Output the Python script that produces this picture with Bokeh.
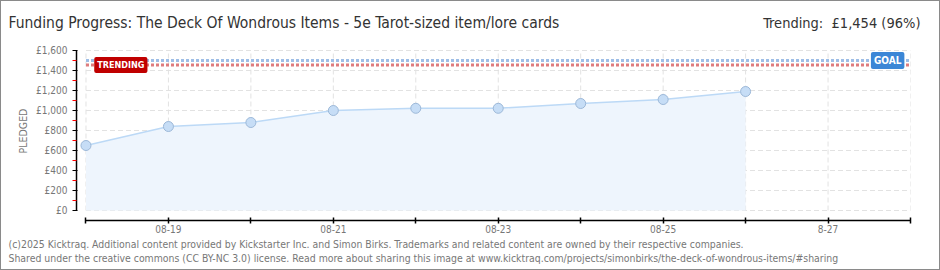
from bokeh.plotting import figure
from bokeh.layouts import column
from bokeh.models import (ColumnDataSource, FixedTicker, Label, Range1d, Title)
from bokeh.embed import file_html
from bokeh.resources import INLINE

# ---- data ----
days = [0, 1, 2, 3, 4, 5, 6, 7, 8]          # 0 = 08-18
pledged = [650, 840, 880, 1000, 1022, 1022, 1070, 1110, 1190]
tick_days = [0, 1, 2, 3, 4, 5, 6, 7, 8, 9, 10]
tick_labels = ["", "08-19", "", "08-21", "", "08-23", "", "08-25", "", "8-27", ""]
y_ticks = [0, 200, 400, 600, 800, 1000, 1200, 1400, 1600]
y_minor = [100, 300, 500, 700, 900, 1100, 1300, 1500]
goal = 1500
trending = 1454
trending_pct = 96
title_text = "Funding Progress: The Deck Of Wondrous Items - 5e Tarot-sized item/lore cards"
footer1 = "(c)2025 Kicktraq. Additional content provided by Kickstarter Inc. and Simon Birks. Trademarks and related content are owned by their respective companies."
footer2 = "Shared under the creative commons (CC BY-NC 3.0) license. Read more about sharing this image at www.kicktraq.com/projects/simonbirks/the-deck-of-wondrous-items/#sharing"

FONT = "DejaVu Sans Condensed"
W = 938
HEAD_H = 40
MAIN_H = 228
BL, BR, BT, BB = 75, 29, 0, 49
FRAME_LEFT = BL + 1          # page x of frame left (1px border)

# ---- header strip ----
head = figure(width=W, height=HEAD_H, output_backend="svg", toolbar_location=None,
              x_range=Range1d(0, W), y_range=Range1d(0, HEAD_H), min_border=0,
              frame_align=False)
head.axis.visible = False
head.grid.visible = False
head.outline_line_color = None
head.add_layout(Label(x=7, y=HEAD_H - 21, text=title_text,
                      text_font=FONT, text_font_size="15.5px", text_color="#333333",
                      text_baseline="middle"))
head.add_layout(Label(x=919, y=HEAD_H - 21,
                      text="Trending:\u00a0 £{:,} ({}%)".format(trending, trending_pct),
                      text_font=FONT, text_font_size="14.5px", text_color="#333333",
                      text_baseline="middle", text_align="right"))

# ---- main chart ----
p = figure(width=W, height=MAIN_H, output_backend="svg", toolbar_location=None,
           x_range=Range1d(-0.115, 10), y_range=Range1d(-100, 1690),
           min_border_left=BL, min_border_right=BR, min_border_top=BT, min_border_bottom=BB,
           frame_align=False)
p.outline_line_color = None
p.xgrid.visible = False
p.ygrid.visible = False

# grid lines drawn within the data area only
p.segment(x0=tick_days, x1=tick_days, y0=[0] * len(tick_days), y1=[1600] * len(tick_days),
          line_color="#e2e2e2", line_dash="5 3", line_width=1)
p.segment(x0=[0] * len(y_ticks), x1=[10] * len(y_ticks), y0=y_ticks, y1=y_ticks,
          line_color="#e2e2e2", line_dash="5 3", line_width=1)

src = ColumnDataSource(dict(x=days, y=pledged, base=[0] * len(days)))
p.varea(x="x", y1="base", y2="y", source=src, fill_color="#eef5fd")
p.line(x="x", y="y", source=src, line_color="#bcd9f6", line_width=1.5)
p.scatter(x="x", y="y", source=src, size=10, fill_color="#c6ddf6", line_color="#9cb8d8")

# goal / trending lines
p.segment(x0=[0], x1=[10], y0=[goal], y1=[goal], line_color="#9dbde6", line_width=3, line_dash="3 2")
p.segment(x0=[0], x1=[10], y0=[trending], y1=[trending], line_color="#de7c7e", line_width=3, line_dash="3 2")

p.add_layout(Label(x=0.1, y=trending, text="TRENDING", text_color="white", text_font=FONT,
                   text_font_size="9px", text_font_style="bold", text_baseline="middle",
                   background_fill_color="#c00000", padding=3, border_radius=2))
p.add_layout(Label(x=9.52, y=goal, text="GOAL", text_color="white", text_font=FONT,
                   text_font_size="10px", text_font_style="bold", text_baseline="middle",
                   background_fill_color="#3b86d6", padding=3, border_radius=2))

# axes
p.xaxis.ticker = FixedTicker(ticks=tick_days)
p.xaxis.major_label_overrides = {d: l for d, l in zip(tick_days, tick_labels)}
p.xaxis.bounds = (0, 10)
p.xaxis.axis_line_color = "black"
p.xaxis.axis_line_width = 1.5
p.xaxis.major_tick_in = 3
p.xaxis.major_tick_out = 3
p.xaxis.major_tick_line_width = 1.5
p.xaxis.minor_tick_line_color = None
p.xaxis.major_label_text_font = FONT
p.xaxis.major_label_text_font_size = "10px"
p.xaxis.major_label_text_color = "#777777"
p.xaxis.major_label_standoff = 1

p.yaxis.ticker = FixedTicker(ticks=y_ticks, minor_ticks=y_minor)
p.yaxis.major_label_overrides = {v: "£{:,}".format(v) for v in y_ticks}
p.yaxis.bounds = (0, 1600)
p.yaxis.axis_line_color = "black"
p.yaxis.axis_line_width = 1.5
p.yaxis.major_tick_in = 1
p.yaxis.major_tick_out = 4
p.yaxis.minor_tick_in = 0
p.yaxis.minor_tick_out = 4
p.yaxis.minor_tick_line_color = "red"
p.yaxis.major_label_text_font = FONT
p.yaxis.major_label_text_font_size = "10px"
p.yaxis.major_label_text_color = "#777777"
p.yaxis.major_label_standoff = 5
p.yaxis.axis_label = "PLEDGED"
p.yaxis.axis_label_text_font = FONT
p.yaxis.axis_label_text_font_size = "10.5px"
p.yaxis.axis_label_text_font_style = "normal"
p.yaxis.axis_label_text_color = "#777777"
p.yaxis.axis_label_standoff = 4

# footer texts as titles below the x axis
for txt in (footer1, footer2):
    p.add_layout(Title(text=txt, align="left", offset=8 - FRAME_LEFT, standoff=0,
                       text_font=FONT, text_font_size="10.4px", text_color="#777777",
                       text_font_style="normal"), "below")

layout = column(head, p, spacing=0, styles={"border": "1px solid #8a8a8a"})
open("out.html", "w").write(file_html(layout, INLINE))
